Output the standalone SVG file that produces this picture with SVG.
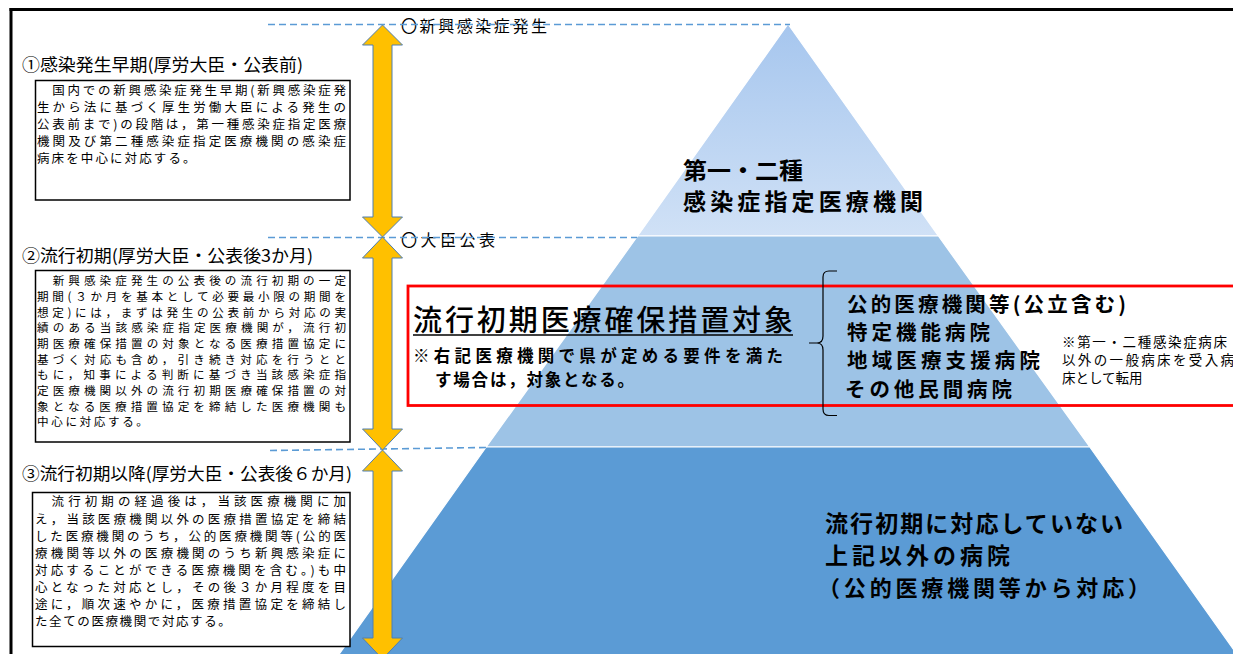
<svg xmlns="http://www.w3.org/2000/svg" width="1233" height="654" viewBox="0 0 1233 654">
<defs>
<linearGradient id="gTop" x1="0" y1="0" x2="0" y2="1">
<stop offset="0" stop-color="#a6c6ee"/>
<stop offset="1" stop-color="#d0e1f6"/>
</linearGradient>
<style>
text{font-family:"Noto Sans CJK JP","Noto Sans CJK SC",sans-serif;fill:#000}
.hd{font-size:17px}
.bd{font-size:12.5px}
.bd2{font-size:11.6px}
.bx{fill:#fff;stroke:#000;stroke-width:1.5}
.big{font-size:23px;font-weight:bold}
.li{font-size:20.5px;font-weight:bold}
.note{font-size:13.5px}
.mk{font-size:16px}
.arr{fill:#ffc000;stroke:#4f7eb0;stroke-width:1}
.dash{fill:none;stroke:#5b9bd5;stroke-width:1.6;stroke-dasharray:7 4}
</style>
</defs>
<rect width="1233" height="654" fill="#fff"/>

<g id="pyramid">
<polygon points="788,24 637.6,236 938.4,236" fill="url(#gTop)" stroke="#fff" stroke-width="1.2"/>
<polygon points="637.6,236 938.4,236 1089.8,447 486.2,447" fill="#9dc3e6" stroke="#fff" stroke-width="1.2"/>
<polygon points="486.2,447 1089.8,447 1241,660 335,660" fill="#5b9bd5" stroke="#fff" stroke-width="1.2"/>
</g>

<g id="frame">
<line x1="9.5" y1="9.5" x2="1233" y2="9.5" stroke="#000" stroke-width="3"/>
<line x1="11" y1="8" x2="11" y2="654" stroke="#000" stroke-width="3"/>
</g>

<g id="phase1">
<text class="hd" x="22" y="70.5" textLength="281" lengthAdjust="spacingAndGlyphs">①感染発生早期(厚労大臣・公表前)</text>
<rect class="bx" x="35.5" y="80.5" width="314.5" height="119.5"/>
<g class="bd">
<text x="37" y="95.2" textLength="309" lengthAdjust="spacing">　国内での新興感染症発生早期(新興感染症発</text>
<text x="37" y="112.2" textLength="309" lengthAdjust="spacing">生から法に基づく厚生労働大臣による発生の</text>
<text x="37" y="129.2" textLength="309" lengthAdjust="spacing">公表前まで)の段階は，第一種感染症指定医療</text>
<text x="37" y="146.2" textLength="309" lengthAdjust="spacing">機関及び第二種感染症指定医療機関の感染症</text>
<text x="37" y="163.2" letter-spacing="2.1">病床を中心に対応する。</text>
</g>
</g>

<g id="phase2">
<text class="hd" x="22" y="261.5" textLength="291" lengthAdjust="spacingAndGlyphs">②流行初期(厚労大臣・公表後3か月)</text>
<rect class="bx" x="35.5" y="270.5" width="314.5" height="171.5"/>
<g class="bd2">
<text x="37" y="285.4" textLength="309" lengthAdjust="spacing">　新興感染症発生の公表後の流行初期の一定</text>
<text x="37" y="301.05" textLength="309" lengthAdjust="spacing">期間(３か月を基本として必要最小限の期間を</text>
<text x="37" y="316.7" textLength="309" lengthAdjust="spacing">想定)には，まずは発生の公表前から対応の実</text>
<text x="37" y="332.35" textLength="309" lengthAdjust="spacing">績のある当該感染症指定医療機関が，流行初</text>
<text x="37" y="348" textLength="309" lengthAdjust="spacing">期医療確保措置の対象となる医療措置協定に</text>
<text x="37" y="363.65" textLength="309" lengthAdjust="spacing">基づく対応も含め，引き続き対応を行うとと</text>
<text x="37" y="379.3" textLength="309" lengthAdjust="spacing">もに，知事による判断に基づき当該感染症指</text>
<text x="37" y="394.95" textLength="309" lengthAdjust="spacing">定医療機関以外の流行初期医療確保措置の対</text>
<text x="37" y="410.6" textLength="309" lengthAdjust="spacing">象となる医療措置協定を締結した医療機関も</text>
<text x="37" y="426.25" letter-spacing="2.6">中心に対応する。</text>
</g>
</g>

<g id="phase3">
<text class="hd" x="22" y="479.6" textLength="330" lengthAdjust="spacingAndGlyphs">③流行初期以降(厚労大臣・公表後６か月)</text>
<rect class="bx" x="32.5" y="492.5" width="317.5" height="154"/>
<g class="bd">
<text x="35" y="506.4" textLength="311" lengthAdjust="spacing">　流行初期の経過後は，当該医療機関に加</text>
<text x="35" y="523.5" textLength="311" lengthAdjust="spacing">え，当該医療機関以外の医療措置協定を締結</text>
<text x="35" y="540.6" textLength="311" lengthAdjust="spacing">した医療機関のうち，公的医療機関等(公的医</text>
<text x="35" y="557.7" textLength="311" lengthAdjust="spacing">療機関等以外の医療機関のうち新興感染症に</text>
<text x="35" y="574.8" textLength="311" lengthAdjust="spacing">対応することができる医療機関を含む。)も中</text>
<text x="35" y="591.9" textLength="311" lengthAdjust="spacing">心となった対応とし，その後３か月程度を目</text>
<text x="35" y="609" textLength="311" lengthAdjust="spacing">途に，順次速やかに，医療措置協定を締結し</text>
<text x="35" y="626.1" letter-spacing="1.6">た全ての医療機関で対応する。</text>
</g>
</g>

<g id="tier-top">
<text class="big" x="683" y="178.7" textLength="120" lengthAdjust="spacingAndGlyphs">第一・二種</text>
<text class="big" x="683" y="209.7" textLength="240" lengthAdjust="spacing">感染症指定医療機関</text>
</g>

<g id="target-box">
<rect x="408" y="286" width="840" height="119.5" fill="none" stroke="#ff0000" stroke-width="2.8"/>
<text x="413" y="331" font-size="29" font-weight="500" textLength="380" lengthAdjust="spacing">流行初期医療確保措置対象</text>
<line x1="413" y1="335" x2="793" y2="335" stroke="#000" stroke-width="1.6"/>
<text x="413" y="361.8" font-size="16.5" font-weight="bold" textLength="370" lengthAdjust="spacing">※右記医療機関で県が定める要件を満た</text>
<text x="435" y="386" font-size="16.5" font-weight="bold" letter-spacing="1.8">す場合は，対象となる。</text>
</g>

<g id="hospital-list">
<path d="M837,271 L829,271 Q823,271 823,277 L823,336 Q823,343 817,343 L809,343 M817,343 Q823,343 823,350 L823,409 Q823,415.5 829,415.5 L837,415.5" fill="none" stroke="#000" stroke-width="1.2"/>
<text class="li" x="847" y="311.8" textLength="279" lengthAdjust="spacing">公的医療機関等(公立含む)</text>
<text class="li" x="847" y="340.3" textLength="143" lengthAdjust="spacing">特定機能病院</text>
<text class="li" x="847" y="368.2" textLength="193" lengthAdjust="spacing">地域医療支援病院</text>
<text class="li" x="845" y="397" textLength="167" lengthAdjust="spacing">その他民間病院</text>
</g>

<g id="note">
<text class="note" x="1062" y="346.5" textLength="165" lengthAdjust="spacing">※第一・二種感染症病床</text>
<text class="note" x="1062" y="365" textLength="172" lengthAdjust="spacing">以外の一般病床を受入病</text>
<text class="note" x="1062" y="382.6">床として転用</text>
</g>

<g id="tier-bottom">
<text class="big" x="825" y="531.5" textLength="298" lengthAdjust="spacing">流行初期に対応していない</text>
<text class="big" x="825" y="563.5" textLength="185" lengthAdjust="spacing">上記以外の病院</text>
<text x="818" y="596" font-size="22" font-weight="bold" textLength="332" lengthAdjust="spacing">（公的医療機関等から対応）</text>
</g>

<g id="milestones">
<text class="mk" x="401" y="32" textLength="146" lengthAdjust="spacing">〇新興感染症発生</text>
<text class="mk" x="401" y="245.5" textLength="94" lengthAdjust="spacing">〇大臣公表</text>
</g>

<g id="connectors">
<line class="dash" x1="268" y1="24.5" x2="790" y2="24.5"/>
<line class="dash" x1="268" y1="237.5" x2="637" y2="237.5"/>
<line class="dash" x1="270" y1="450.5" x2="487" y2="447.5"/>
<polygon class="arr" points="382.5,25 402.5,45 392,45 392,217 402.5,217 382.5,237 362.5,217 373,217 373,45 362.5,45"/>
<polygon class="arr" points="382.5,237 402.5,258 392,258 392,429 402.5,429 382.5,450 362.5,429 373,429 373,258 362.5,258"/>
<polygon class="arr" points="382.5,450 402.5,471 392,471 392,638 402.5,638 382.5,659 362.5,638 373,638 373,471 362.5,471"/>
</g>
</svg>
